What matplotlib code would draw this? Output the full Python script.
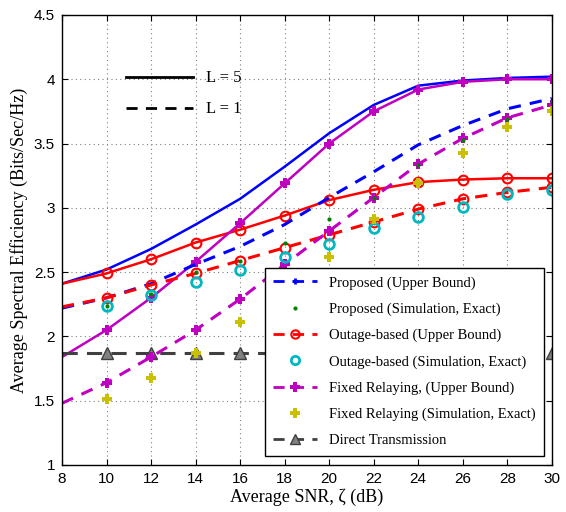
"""
Average spectral efficiency vs average SNR for the relaying schemes,
L = 5 (solid) and L = 1 (dashed).
"""

import matplotlib
matplotlib.use("Agg")
import matplotlib.pyplot as plt
from matplotlib.lines import Line2D

SNR = [8, 10, 12, 14, 16, 18, 20, 22, 24, 26, 28, 30]
SNR_SIM = SNR[1:]

# L = 5 curves
prop_L5 = [2.41, 2.52, 2.68, 2.87, 3.07, 3.32, 3.58, 3.80, 3.95, 3.99, 4.01, 4.02]
outage_L5 = [2.41, 2.49, 2.60, 2.73, 2.83, 2.94, 3.06, 3.14, 3.20, 3.22, 3.23, 3.23]
fixed_L5 = [1.84, 2.05, 2.30, 2.58, 2.88, 3.19, 3.50, 3.75, 3.92, 3.98, 4.00, 4.00]

# L = 1 upper bounds
prop_L1 = [2.22, 2.30, 2.41, 2.56, 2.70, 2.87, 3.08, 3.28, 3.49, 3.64, 3.77, 3.85]
outage_L1 = [2.23, 2.30, 2.40, 2.49, 2.59, 2.69, 2.79, 2.89, 2.99, 3.07, 3.12, 3.16]
fixed_L1 = [1.48, 1.64, 1.84, 2.05, 2.29, 2.56, 2.82, 3.08, 3.34, 3.54, 3.70, 3.80]

# L = 1 simulations
prop_sim = [2.24, 2.33, 2.50, 2.59, 2.73, 2.91, 3.08, 3.33, 3.53, 3.69, 3.82]
outage_sim = [2.24, 2.32, 2.42, 2.52, 2.62, 2.72, 2.84, 2.93, 3.01, 3.11, 3.14]
fixed_sim = [1.51, 1.68, 1.87, 2.11, 2.37, 2.62, 2.91, 3.19, 3.43, 3.63, 3.75]

direct = [1.87] * len(SNR)

serif = ["Liberation Serif", "DejaVu Serif"]
plt.rcParams["font.family"] = ["Liberation Sans", "DejaVu Sans"]

MAG = "#c000c0"
CYAN = "#00b8c0"
YEL = "#c8c000"
GREY = "#404040"
DASH = (4, 3)

fig = plt.figure(figsize=(5.66, 5.12), dpi=100)
ax = fig.add_axes([0.1095, 0.0918, 0.8655, 0.879])

lw = 1.8
# L = 5
ax.plot(SNR, prop_L5, "-", color="blue", lw=lw)
ax.plot(SNR, outage_L5, "-", color="red", lw=lw)
ax.plot(SNR[1:], outage_L5[1:], "o", color="red", mfc="none", mew=1.5, ms=7)
ax.plot(SNR, fixed_L5, "-", color=MAG, lw=lw)
ax.plot(SNR[1:], fixed_L5[1:], "P", color=MAG, ms=7.5, mew=0)

# L = 1
ax.plot(SNR, direct, "--", color=GREY, lw=2.2, dashes=(5, 3))
ax.plot(SNR_SIM, direct[1:], "^", color=GREY, mfc="#808080", ms=8)
ax.plot(SNR, prop_L1, "--", color="blue", lw=2.2, dashes=DASH)
ax.plot(SNR, outage_L1, "--", color="red", lw=2.2, dashes=DASH)
ax.plot(SNR[1:], outage_L1[1:], "o", color="red", mfc="none", mew=1.5, ms=7)
ax.plot(SNR, fixed_L1, "--", color=MAG, lw=2.2, dashes=DASH)
ax.plot(SNR[1:], fixed_L1[1:], "P", color=MAG, ms=7.5, mew=0)
ax.plot(SNR_SIM, outage_sim, "o", color=CYAN, mfc="none", mew=2, ms=7)
ax.plot(SNR_SIM, fixed_sim, "P", color=YEL, ms=7.5, mew=0)
ax.plot(SNR_SIM, prop_sim, ".", color="green", ms=4)

ax.set_xlim(8, 30)
ax.set_ylim(1, 4.5)
ax.set_xticks(range(8, 31, 2))
ax.set_yticks([1, 1.5, 2, 2.5, 3, 3.5, 4, 4.5])
ax.set_yticklabels(["1", "1.5", "2", "2.5", "3", "3.5", "4", "4.5"])
ax.tick_params(direction="in", labelsize=11, top=True, right=True, length=4, pad=5)
ax.grid(True, ls=(0, (1, 3)), color="#808080", lw=0.8)
for s in ax.spines.values():
    s.set_linewidth(1.0)

ax.set_xlabel("Average SNR, ζ (dB)", family=serif, fontsize=13, labelpad=2)
ax.set_ylabel("Average Spectral Efficiency (Bits/Sec/Hz)", family=serif, fontsize=13)

# L legend
lh = [Line2D([], [], color="black", lw=2),
      Line2D([], [], color="black", lw=2, ls="--", dashes=DASH)]
leg_l = ax.legend(lh, ["L = 5", "L = 1"], loc="upper left",
                  bbox_to_anchor=(0.1, 0.91), frameon=False,
                  prop={"family": serif, "size": 12}, handlelength=4,
                  labelspacing=0.9)
ax.add_artist(leg_l)

handles = [
    Line2D([], [], color="blue", lw=2, ls="--", dashes=DASH, marker="+", ms=4, mew=2),
    Line2D([], [], color="green", ls="none", marker=".", ms=4),
    Line2D([], [], color="red", lw=2, ls="--", dashes=DASH, marker="o", mfc="none", ms=6, mew=1.5),
    Line2D([], [], color=CYAN, ls="none", marker="o", mfc="none", ms=6, mew=2),
    Line2D([], [], color=MAG, lw=2, ls="--", dashes=DASH, marker="P", ms=7, mew=0),
    Line2D([], [], color=YEL, ls="none", marker="P", ms=7, mew=0),
    Line2D([], [], color=GREY, lw=2, ls="--", dashes=DASH, marker="^", mfc="#808080", ms=7),
]
labels = [
    "Proposed (Upper Bound)",
    "Proposed (Simulation, Exact)",
    "Outage-based (Upper Bound)",
    "Outage-based (Simulation, Exact)",
    "Fixed Relaying, (Upper Bound)",
    "Fixed Relaying (Simulation, Exact)",
    "Direct Transmission",
]
leg = ax.legend(handles, labels, loc="lower right", bbox_to_anchor=(0.993, 0.01),
                prop={"family": serif, "size": 10.5}, fancybox=False,
                edgecolor="black", framealpha=1, labelspacing=0.88,
                handlelength=3, borderpad=0.6, borderaxespad=0.3)
leg.get_frame().set_linewidth(1.0)

fig.savefig("out.png", dpi=100)
